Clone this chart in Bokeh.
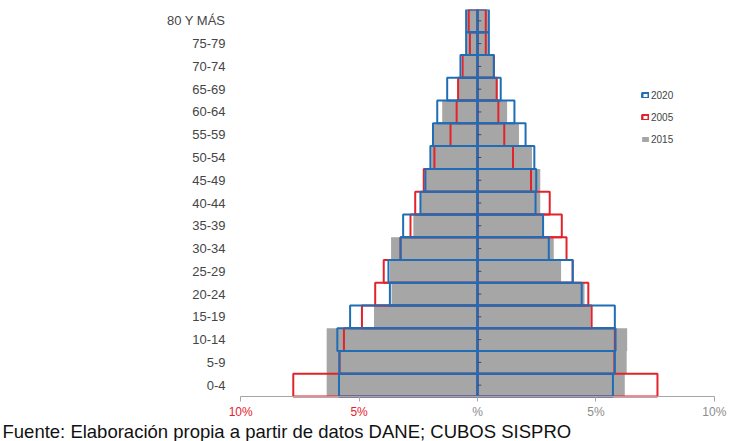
from bokeh.plotting import figure
from bokeh.models import (ColumnDataSource, Range1d, Legend, LegendItem, FixedTicker,
                          LinearAxis, Title)
from bokeh.embed import file_html
from bokeh.resources import INLINE

categories = ["0-4", "5-9", "10-14", "15-19", "20-24", "25-29", "30-34", "35-39",
              "40-44", "45-49", "50-54", "55-59", "60-64", "65-69", "70-74", "75-79", "80 Y MÁS"]

hombres_2020 = [5.85, 5.83, 5.92, 5.38, 3.70, 3.76, 3.25, 3.14, 2.41, 2.20, 1.99, 1.88, 1.70, 1.28, 0.72, 0.48, 0.48]
mujeres_2020 = [5.72, 5.80, 5.83, 5.80, 4.40, 4.02, 3.01, 2.77, 2.45, 2.48, 2.40, 2.03, 1.56, 0.98, 0.69, 0.48, 0.48]
hombres_2005 = [7.78, 5.83, 5.64, 4.88, 4.32, 3.96, 3.25, 2.83, 2.63, 2.27, 1.82, 1.14, 0.88, 0.82, 0.63, 0.32, 0.37]
mujeres_2005 = [7.60, 5.78, 5.80, 4.82, 4.68, 4.02, 3.76, 3.56, 3.05, 2.26, 1.50, 1.13, 0.88, 0.81, 0.69, 0.35, 0.35]
hombres_2015 = [6.37, 6.37, 6.37, 4.37, 3.63, 3.70, 3.65, 2.71, 2.41, 2.20, 1.95, 1.85, 1.49, 0.82, 0.65, 0.44, 0.44]
mujeres_2015 = [6.22, 6.30, 6.32, 4.78, 4.52, 3.53, 3.22, 2.80, 2.65, 2.65, 2.30, 1.75, 1.25, 0.85, 0.65, 0.44, 0.44]

neg_tick_values = [-10, -5]
neg_tick_labels = ["10%", "5%"]
pos_tick_values = [0, 5, 10]
pos_tick_labels = ["%", "5%", "10%"]
caption = "Fuente: Elaboración propia a partir de datos DANE; CUBOS SISPRO"

BLUE = "#1f6db5"
RED = "#e3232b"
GRAY = "#a6a6a6"
FONT = "Liberation Sans"

# layout constants (pixels)
W, H = 732, 441
TOP, BOTTOM_PANEL, LEFT, RIGHT = 9, 22, 226, 4
ROW_PX = 388.0 / len(categories)
frame_h = H - TOP - BOTTOM_PANEL
y_top = len(categories) - 0.5
y_bottom = y_top - frame_h / ROW_PX

pos = list(range(len(categories)))
src = ColumnDataSource(dict(
    pos=pos,
    h20=[-v for v in hombres_2020], m20=mujeres_2020,
    h05=[-v for v in hombres_2005], m05=mujeres_2005,
    h15=[-v for v in hombres_2015], m15=mujeres_2015,
    zero=[0] * len(categories),
    tick=[0.16] * len(categories),
))

p = figure(width=W, height=H, x_range=(-10.6, 10.6), y_range=Range1d(y_bottom, y_top),
           output_backend="svg", toolbar_location=None, x_axis_location=None,
           min_border_left=LEFT, min_border_right=RIGHT, min_border_top=TOP,
           min_border_bottom=BOTTOM_PANEL)
p.grid.visible = False
p.outline_line_color = None

g1 = p.hbar(y="pos", left="h15", right="zero", height=1.0, source=src, fill_color=GRAY, line_color=None)
g2 = p.hbar(y="pos", left="zero", right="m15", height=1.0, source=src, fill_color=GRAY, line_color=None)
r1 = p.hbar(y="pos", left="h05", right="zero", height=1.0, source=src, fill_color=None, line_color=RED, line_width=2)
r2 = p.hbar(y="pos", left="zero", right="m05", height=1.0, source=src, fill_color=None, line_color=RED, line_width=2)
b1 = p.hbar(y="pos", left="h20", right="zero", height=1.0, source=src, fill_color=None, line_color=BLUE, line_width=2)
b2 = p.hbar(y="pos", left="zero", right="m20", height=1.0, source=src, fill_color=None, line_color=BLUE, line_width=2)
p.segment(x0="zero", y0="pos", x1="tick", y1="pos", source=src, line_color="#2b4f7a", line_width=1)

# y axis with the age groups
ya = p.yaxis[0]
ya.ticker = FixedTicker(ticks=pos)
ya.major_label_overrides = {i: c for i, c in zip(pos, categories)}
ya.axis_line_color = None
ya.major_tick_line_color = None
ya.minor_tick_line_color = None
ya.major_tick_out = 0
ya.major_tick_in = 0
ya.major_label_standoff = 1
ya.major_label_text_font = FONT
ya.major_label_text_font_size = "13px"
ya.major_label_text_color = "#454545"

# x axes drawn at the bottom edge of the bars (two axes so the label colours differ)
def make_x_axis(ticks, labels, color, show_line):
    ax = LinearAxis(ticker=FixedTicker(ticks=ticks),
                    major_label_overrides={t: l for t, l in zip(ticks, labels)},
                    fixed_location=-0.5, bounds=(-10, 10))
    ax.axis_line_color = "#a6a6a6" if show_line else None
    ax.major_tick_line_color = "#a6a6a6"
    ax.major_tick_out = 5
    ax.major_tick_in = 0
    ax.minor_tick_line_color = None
    ax.major_label_standoff = 3
    ax.major_label_text_font = FONT
    ax.major_label_text_font_size = "12px"
    ax.major_label_text_color = color
    return ax

p.add_layout(make_x_axis(pos_tick_values, pos_tick_labels, "#8c8c8c", True), "below")
p.add_layout(make_x_axis(neg_tick_values, neg_tick_labels, RED, False), "below")

p.add_layout(Title(text=caption, align="left", offset=-(LEFT - 2), standoff=0,
                   text_font=FONT, text_font_size="18.5px", text_font_style="normal",
                   text_color="#111111"), "below")

legend = Legend(items=[
    LegendItem(label="2020", renderers=[b1, b2]),
    LegendItem(label="2005", renderers=[r1, r2]),
    LegendItem(label="2015", renderers=[g1, g2]),
], location=(415, frame_h - 138))
legend.glyph_width = 8
legend.glyph_height = 6
legend.label_height = 14
legend.spacing = 8
legend.padding = 0
legend.margin = 0
legend.label_standoff = 2
legend.label_text_font = FONT
legend.label_text_font_size = "10px"
legend.label_text_color = "#444444"
legend.border_line_color = None
legend.background_fill_alpha = 0
p.add_layout(legend)

open("out.html", "w").write(file_html(p, INLINE))
